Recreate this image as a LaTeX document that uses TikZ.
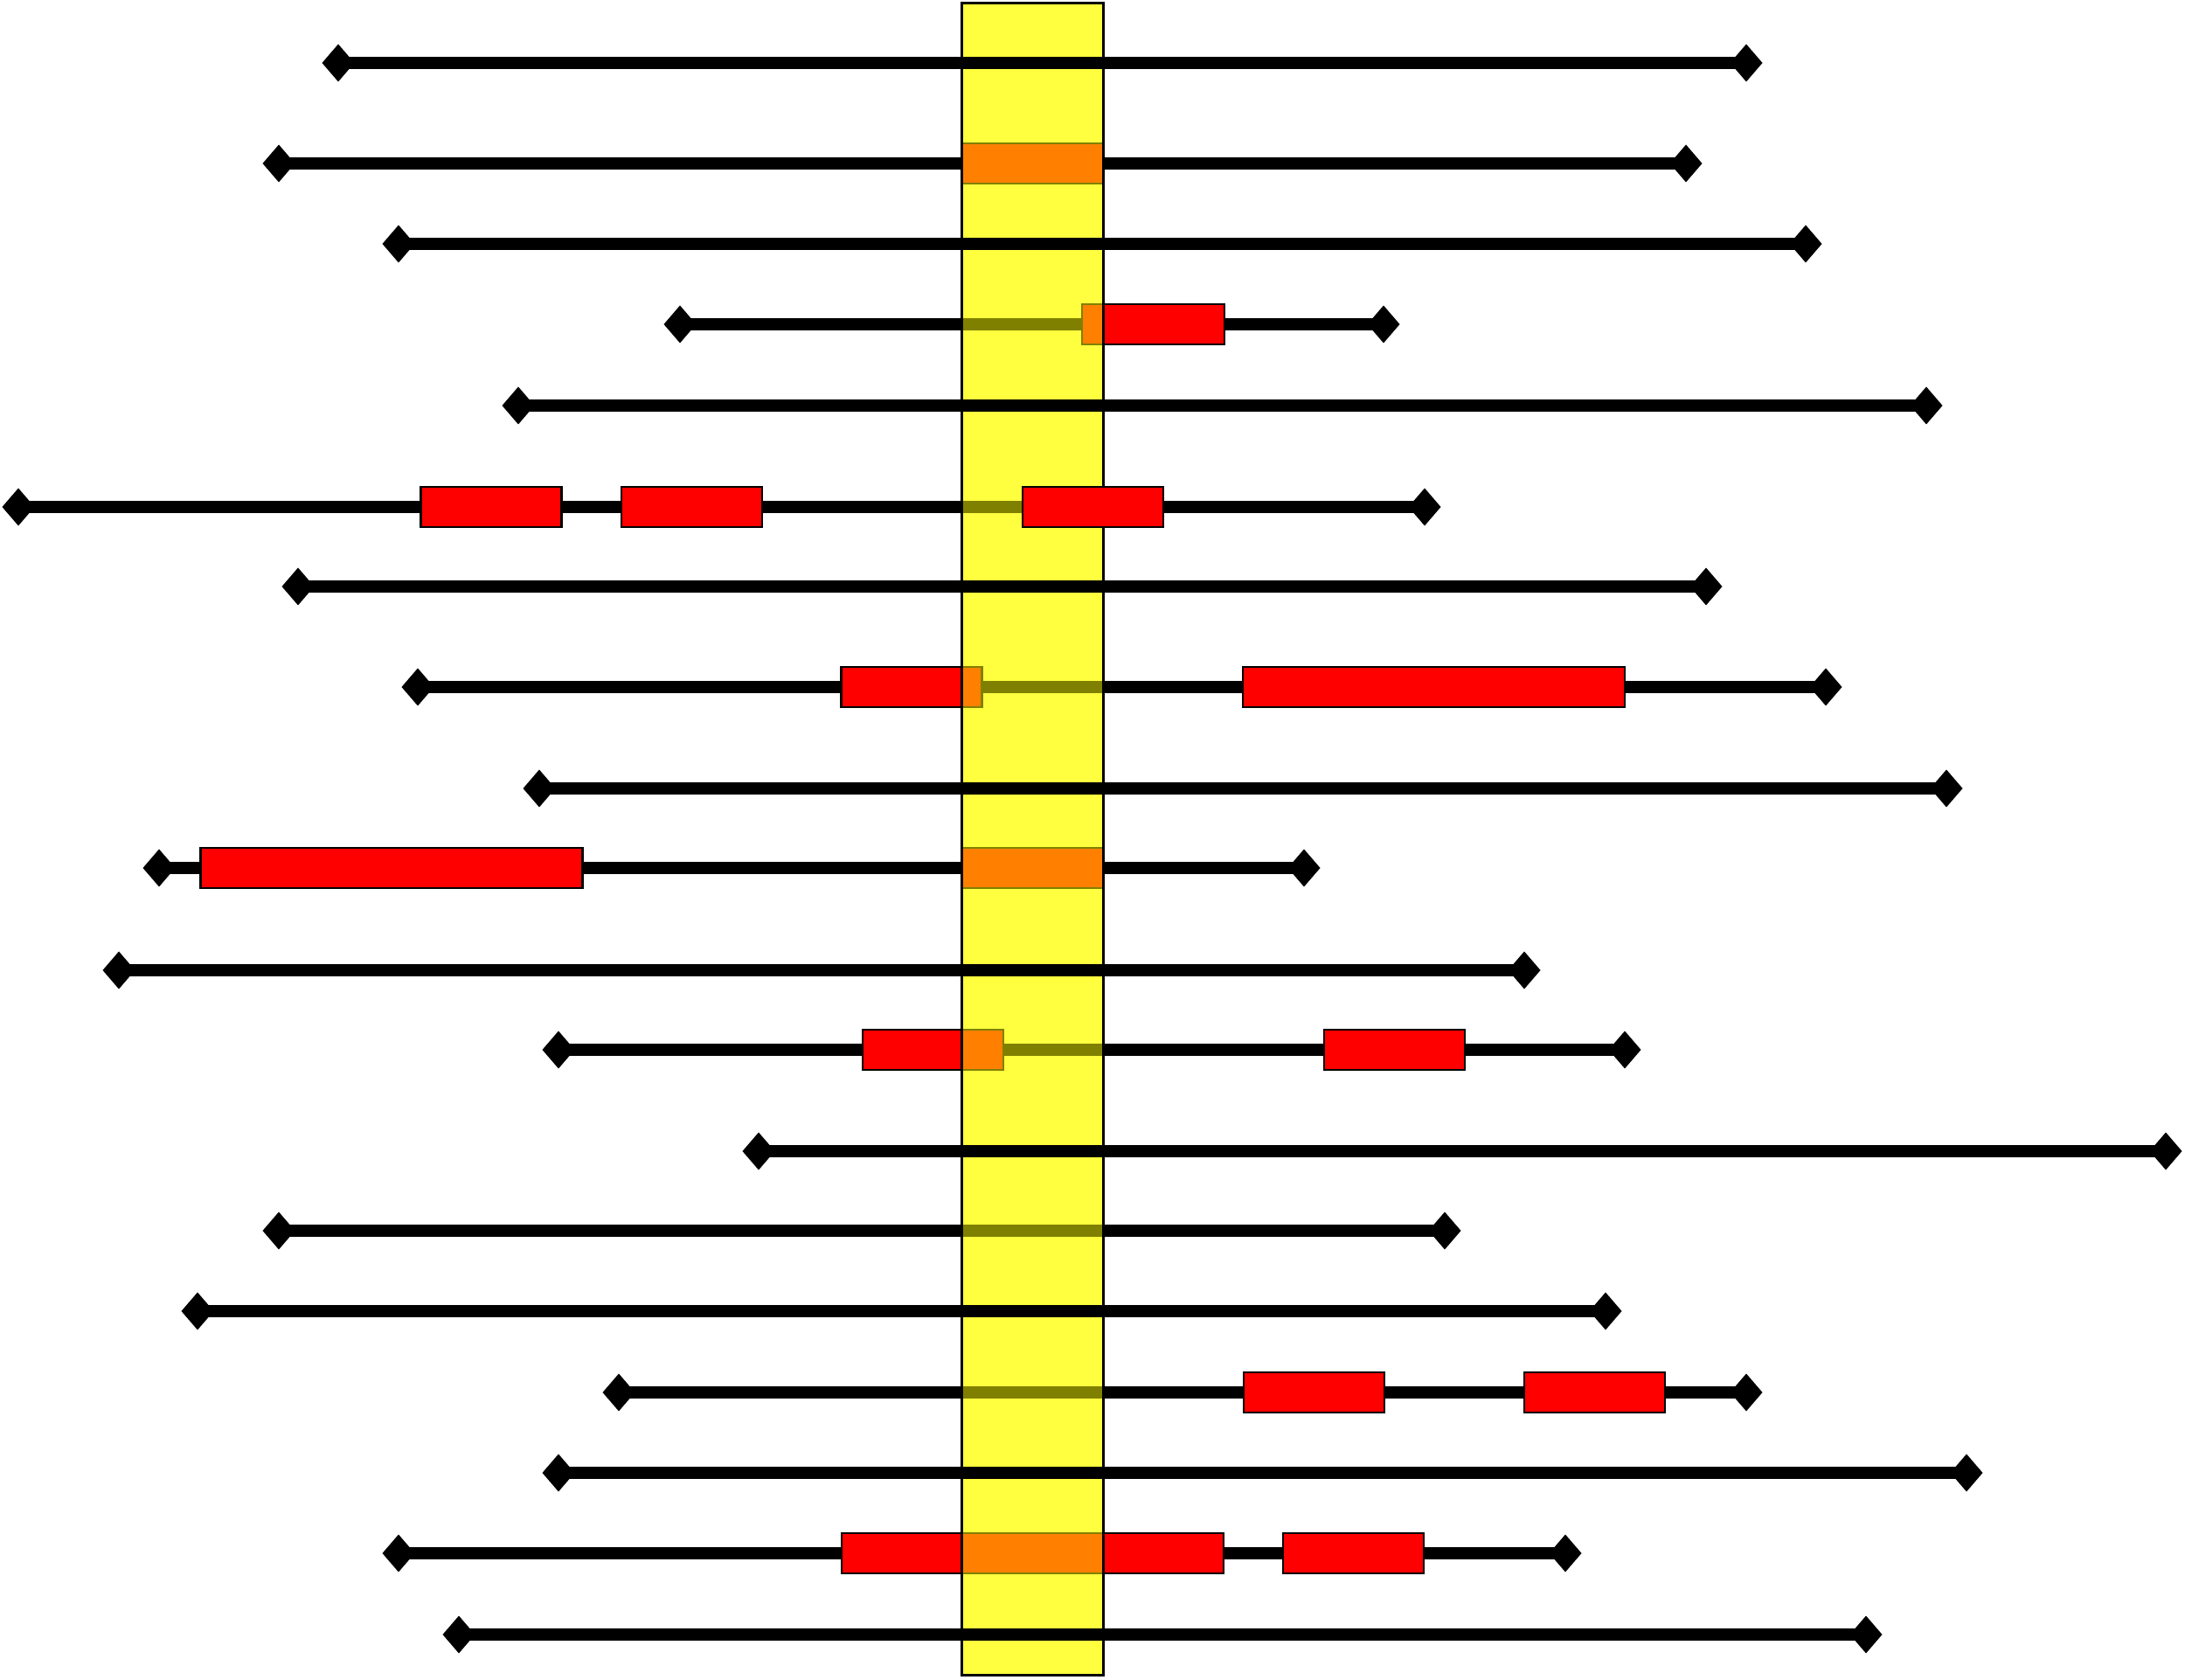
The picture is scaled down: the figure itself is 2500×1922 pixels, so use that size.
\documentclass[tikz,border=0pt]{standalone}
\definecolor{bandbase}{RGB}{255,255,128}
\definecolor{bandtop}{RGB}{255,255,0}
\definecolor{boxred}{RGB}{255,0,0}
\tikzset{
  ln/.style={line width=1.45mm, black},
  redbox/.style={rectangle, draw=black, line width=0.75pt, fill=boxred, inner sep=0pt, minimum height=4.6mm, minimum width=#1},
  bandbox/.style={rectangle, draw=none, fill=bandbase, inner sep=0pt, minimum width=16.1mm, minimum height=191.2mm}
}
\newcommand{\diamondat}[1]{\fill[black] (#1) +(-18.5,0) -- +(0,-21.5) -- +(18.5,0) -- +(0,21.5) -- cycle;}
\begin{document}
\begin{tikzpicture}[x=0.1mm, y=-0.1mm]
\useasboundingbox (0,0) rectangle (2500,1922);
% base of the highlighted band
\node[bandbox] (band) at (1181.5,960) {};
% rows drawn beneath the band overlay
\foreach \i/\y/\a/\b in {2/187/319/1929, 4/371/778/1583, 6/580/21/1630, 8/786/478/2089,
  10/993/182/1492, 12/1201/639/1859, 14/1408/319/1653, 16/1593/708/1998, 18/1777/456/1791}{
  \coordinate (L\i) at (\a,\y);
  \coordinate (R\i) at (\b,\y);
  \draw[ln] (L\i) -- (R\i);
  \diamondat{L\i}
  \diamondat{R\i}
}
% red boxes beneath the overlay
\node[redbox=16.1mm] (b2a) at (1181.5,187) {};
\node[redbox=16.3mm] (b4a) at (1319.5,371) {};
\node[redbox=16.1mm] (b6a) at (562,580) {};
\node[redbox=16.1mm] (b6b) at (791.5,580) {};
\node[redbox=16.1mm] (b8a) at (1043,786) {};
\node[redbox=43.7mm] (b8b) at (1640.5,786) {};
\node[redbox=43.7mm] (b10a) at (448,993) {};
\node[redbox=16.1mm] (b10b) at (1181.5,993) {};
\node[redbox=16.1mm] (b12a) at (1067.5,1201) {};
\node[redbox=16.1mm] (b12b) at (1595.5,1201) {};
\node[redbox=16.1mm] (b16a) at (1503.5,1593) {};
\node[redbox=16.1mm] (b16b) at (1824.5,1593) {};
\node[redbox=43.7mm] (b18a) at (1181.5,1777) {};
\node[redbox=16.1mm] (b18b) at (1548.5,1777) {};
% translucent overlay and outline of the band
\fill[bandtop, opacity=0.5] (band.north west) rectangle (band.south east);
\draw[black, line width=0.7pt] (band.north west) rectangle (band.south east);
% box drawn above the band
\node[redbox=16.1mm] (b6c) at (1250.5,580) {};
% rows drawn above the band
\foreach \i/\y/\a/\b in {1/72/387/1998, 3/279/456/2066, 5/464/593/2204, 7/671/341/1952,
  9/902/617/2227, 11/1110/136/1744, 13/1317/868/2478, 15/1500/226/1837,
  17/1685/639/2250, 19/1870/525/2135}{
  \coordinate (L\i) at (\a,\y);
  \coordinate (R\i) at (\b,\y);
  \draw[ln] (L\i) -- (R\i);
  \diamondat{L\i}
  \diamondat{R\i}
}
\end{tikzpicture}
\end{document}
